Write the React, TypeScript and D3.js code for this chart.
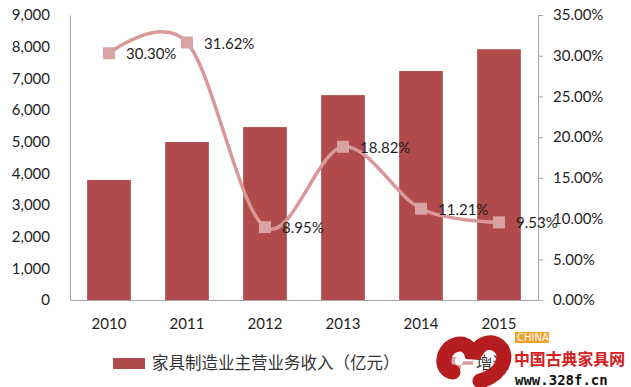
import * as d3 from 'd3';
import React, { useEffect, useRef } from 'react';

// chart data
const years = ['2010', '2011', '2012', '2013', '2014', '2015'];
const revenue = [3790, 4990, 5460, 6470, 7230, 7920];
const growth = [30.3, 31.62, 8.95, 18.82, 11.21, 9.53];
const leftTicks = [0, 1000, 2000, 3000, 4000, 5000, 6000, 7000, 8000, 9000];
const rightTicks = [0, 5, 10, 15, 20, 25, 30, 35];
const barName = '家具制造业主营业务收入（亿元）';
const lineName = '增速';

const App = () => {
  const svgRef = useRef<SVGSVGElement>(null);

  useEffect(() => {
    const width = 631;
    const height = 387;
    const margin = { top: 15, right: 93, bottom: 87, left: 70 };
    const font = 'Lato, "Open Sans", sans-serif';
    const barColor = '#b04a4b';
    const lineColor = '#d99899';
    const markColor = '#d9a3a3';

    const svg = d3.select(svgRef.current);
    svg.selectAll('*').remove();
    svg.attr('width', width).attr('height', height);

    svg.append('rect').attr('width', width).attr('height', height).attr('fill', '#fff');

    const x = d3.scaleBand()
      .domain(years)
      .range([margin.left, width - margin.right])
      .paddingInner(0.44)
      .paddingOuter(0.22);

    const yL = d3.scaleLinear().domain([0, 9000]).range([height - margin.bottom, margin.top]);
    const yR = d3.scaleLinear().domain([0, 35]).range([height - margin.bottom, margin.top]);

    // bars
    svg.append('g')
      .selectAll('rect')
      .data(years)
      .enter()
      .append('rect')
      .attr('x', d => x(d)!)
      .attr('width', x.bandwidth())
      .attr('y', (d, i) => yL(revenue[i]))
      .attr('height', (d, i) => yL(0) - yL(revenue[i]))
      .attr('fill', barColor);

    // left axis
    const left = svg.append('g')
      .attr('transform', `translate(${margin.left},0)`)
      .call(d3.axisLeft(yL).tickValues(leftTicks).tickSize(0).tickPadding(20).tickFormat(d3.format(',')));
    left.select('.domain').attr('stroke', '#a6a6a6');
    left.selectAll('text').attr('font-size', 15).attr('font-family', font).attr('fill', '#1e1e1e');

    // right axis
    const right = svg.append('g')
      .attr('transform', `translate(${width - margin.right},0)`)
      .call(d3.axisRight(yR).tickValues(rightTicks).tickSize(5).tickSizeOuter(0).tickPadding(10)
        .tickFormat(d => (+d).toFixed(2) + '%'));
    right.selectAll('.domain, line').attr('stroke', '#a6a6a6');
    right.selectAll('text').attr('font-size', 15).attr('font-family', font).attr('fill', '#1e1e1e');

    // bottom axis
    const bottom = svg.append('g')
      .attr('transform', `translate(0,${height - margin.bottom})`)
      .call(d3.axisBottom(x).tickSize(0).tickPadding(18));
    bottom.select('.domain').attr('stroke', '#a6a6a6');
    bottom.selectAll('text').attr('font-size', 15).attr('font-family', font).attr('fill', '#1e1e1e');

    // growth line (smoothed, Excel-like)
    const cx = (i: number) => x(years[i])! + x.bandwidth() / 2;
    svg.append('path')
      .datum(growth)
      .attr('fill', 'none')
      .attr('stroke', lineColor)
      .attr('stroke-width', 3.5)
      .attr('d', d3.line<number>()
        .x((d, i) => cx(i))
        .y(d => yR(d))
        .curve(d3.curveCardinal.tension(0)));

    svg.append('g')
      .selectAll('rect')
      .data(growth)
      .enter()
      .append('rect')
      .attr('x', (d, i) => cx(i) - 6)
      .attr('y', d => yR(d) - 6)
      .attr('width', 12)
      .attr('height', 12)
      .attr('fill', markColor);

    svg.append('g')
      .selectAll('text')
      .data(growth)
      .enter()
      .append('text')
      .attr('x', (d, i) => cx(i) + 17)
      .attr('y', d => yR(d) + 6)
      .attr('font-size', 15)
      .attr('font-family', font)
      .attr('fill', '#1e1e1e')
      .text(d => d.toFixed(2) + '%');

    // legend
    const lg = svg.append('g');
    lg.append('rect').attr('x', 113).attr('y', 358).attr('width', 32).attr('height', 11).attr('fill', barColor);
    lg.append('text').attr('x', 152).attr('y', 369)
      .attr('font-size', 16.5).attr('font-family', '"Noto Sans CJK SC", sans-serif').attr('fill', '#333')
      .text(barName);
    lg.append('line').attr('x1', 437).attr('x2', 473).attr('y1', 363).attr('y2', 363)
      .attr('stroke', lineColor).attr('stroke-width', 3.5);
    lg.append('rect').attr('x', 449).attr('y', 357).attr('width', 12).attr('height', 12).attr('fill', markColor);
    lg.append('text').attr('x', 476).attr('y', 369)
      .attr('font-size', 16.5).attr('font-family', '"Noto Sans CJK SC", sans-serif').attr('fill', '#333')
      .text(lineName);

    // watermark
    const wm = svg.append('g');
    wm.append('path')
      .attr('d', 'M453 372 C440 371 441 350 455 345 C467 341 472 351 473 358 C477 344 490 339 499 346 C510 356 502 375 480 381')
      .attr('fill', 'none').attr('stroke', '#b51d21').attr('stroke-width', 15).attr('stroke-linecap', 'round');
    wm.append('circle').attr('cx', 459).attr('cy', 361).attr('r', 4).attr('fill', '#fff');
    wm.append('circle').attr('cx', 489).attr('cy', 354).attr('r', 4).attr('fill', '#fff');
    wm.append('rect').attr('x', 515).attr('y', 332).attr('width', 34).attr('height', 11).attr('fill', '#f0a12c');
    wm.append('text').attr('x', 517).attr('y', 341).attr('font-size', 10).attr('font-family', '"DejaVu Sans", sans-serif')
      .attr('fill', '#fff').text('CHINA');
    wm.append('text').attr('x', 514).attr('y', 365).attr('font-size', 16).attr('font-family', '"Noto Sans CJK SC", sans-serif')
      .attr('font-weight', 700).attr('fill', '#d42020')
      .attr('textLength', 111).attr('lengthAdjust', 'spacingAndGlyphs').text('中国古典家具网');
    wm.append('text').attr('x', 515).attr('y', 385).attr('font-size', 14).attr('font-family', '"DejaVu Sans Mono", monospace')
      .attr('font-weight', 700).attr('fill', '#111').text('www.328f.cn');
  }, []);

  return <svg ref={svgRef} style={{ position: 'absolute', left: 0, top: 0 }}></svg>;
};

export default App;
